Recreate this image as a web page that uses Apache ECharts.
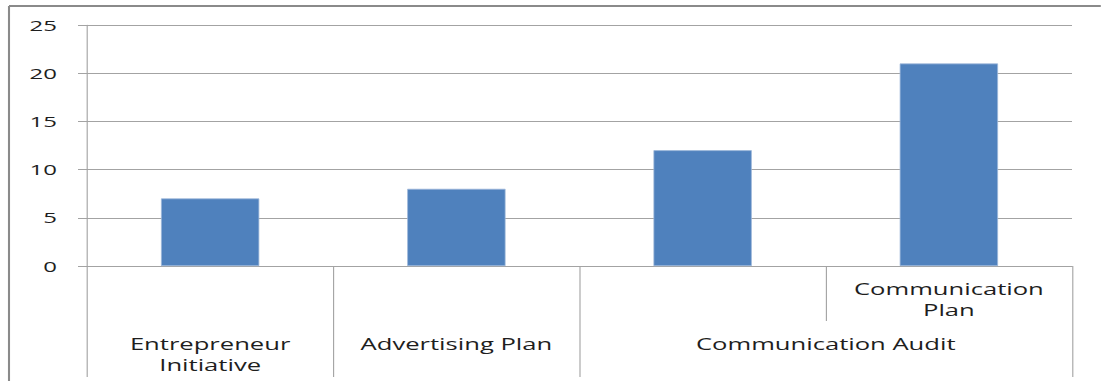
<!DOCTYPE html>
<html>
<head>
<meta charset="utf-8">
<script src="https://cdn.jsdelivr.net/npm/echarts@6/dist/echarts.min.js"></script>
<style>
  html, body { margin: 0; padding: 0; background: #fff; overflow: hidden; }
  #wrap { width: 1101px; height: 381px; overflow: hidden; position: relative; }
  /* chart is laid out narrow, then stretched horizontally */
  #chart { position: absolute; left: 0; top: 0; height: 381px; transform-origin: 0 0; }
</style>
</head>
<body>
<div id="wrap"><div id="chart"></div></div>
<script>
// Data
const categories = ['Entrepreneur Initiative', 'Advertising Plan', 'Communication Audit', 'Communication Plan'];
const values = [7, 8, 12, 21];
// Two-level category labels
const upperLabels = ['', '', '', 'Communication\nPlan'];
const lowerGroups = ['Entrepreneur\nInitiative', 'Advertising Plan', 'Communication Audit'];
const lowerGroupCenters = [0.5, 1.5, 3];
const lowerGroupEdges = [0, 1, 2, 4];
const yTicks = [0, 5, 10, 15, 20, 25];

const SX = 1.6;
const W = 1101 / SX;
const el = document.getElementById('chart');
el.style.width = W + 'px';
el.style.transform = 'scaleX(' + SX + ')';

const FONT = '"Open Sans"';
const GRAY = '#a3a3a3';
const TEXT = '#1e1e1e';

const chart = echarts.init(el, null, { renderer: 'svg', width: W, height: 381 });

chart.setOption({
  animation: false,
  backgroundColor: '#fff',
  grid: { left: 87 / SX, right: W - 1072 / SX, top: 25, bottom: 381 - 266 },
  graphic: [
    { type: 'line', shape: { x1: 9 / SX, y1: 6, x2: W + 10, y2: 6 }, style: { stroke: '#8a8a8a', lineWidth: 2 } },
    { type: 'line', shape: { x1: 9 / SX, y1: 6, x2: 9 / SX, y2: 400 }, style: { stroke: '#8a8a8a', lineWidth: 1.3 } }
  ],
  xAxis: [
    {
      type: 'category',
      data: categories,
      position: 'bottom',
      axisLine: { show: true, lineStyle: { color: GRAY, width: 1 } },
      axisTick: { show: true, interval: 0, length: 55, lineStyle: { color: GRAY, width: 0.7 } },
      axisLabel: {
        interval: 0,
        margin: 12,
        fontFamily: FONT,
        fontSize: 16,
        lineHeight: 21,
        color: TEXT,
        formatter: (v, i) => upperLabels[i]
      },
      splitLine: { show: false }
    },
    {
      type: 'value',
      position: 'bottom',
      offset: 55,
      min: 0,
      max: 4,
      axisLine: { show: false },
      axisTick: { show: true, length: 56, customValues: lowerGroupEdges, lineStyle: { color: GRAY, width: 0.7 } },
      axisLabel: {
        margin: 12,
        fontFamily: FONT,
        fontSize: 16,
        lineHeight: 21,
        color: TEXT,
        customValues: lowerGroupCenters,
        formatter: v => lowerGroups[lowerGroupCenters.indexOf(v)]
      },
      splitLine: { show: false }
    }
  ],
  yAxis: {
    type: 'value',
    min: yTicks[0],
    max: yTicks[yTicks.length - 1],
    interval: 5,
    axisLine: { show: true, lineStyle: { color: GRAY, width: 0.7 } },
    axisTick: { show: true, length: 9 / SX, lineStyle: { color: GRAY, width: 1 } },
    axisLabel: { margin: 30 / SX, fontFamily: FONT, fontSize: 15, color: TEXT },
    splitLine: { show: true, lineStyle: { color: GRAY, width: 1 } }
  },
  series: [{
    type: 'bar',
    data: values,
    barWidth: '40%',
    itemStyle: { color: '#4f81bd', borderColor: '#9db7da', borderWidth: 0.6 }
  }]
});
</script>
</body>
</html>
